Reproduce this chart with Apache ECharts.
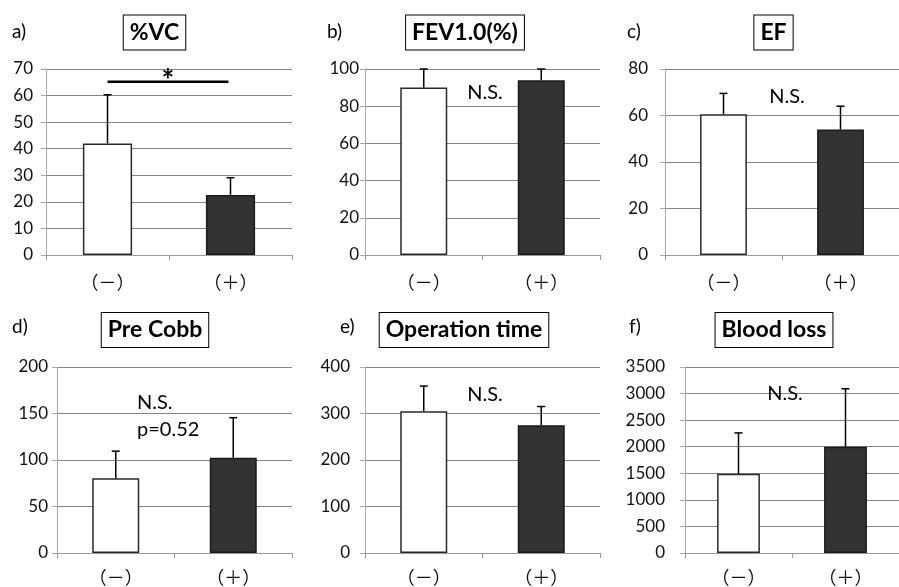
<!DOCTYPE html>
<html><head><meta charset="utf-8">
<script src="https://cdn.jsdelivr.net/npm/echarts@6/dist/echarts.min.js"></script>
<style>html,body{margin:0;padding:0;background:#fff}#c{width:899px;height:587px}</style>
</head><body><div id="c"></div>
<script>
var categories = ['（－）', '（＋）'];
var vcMean = [42, 22.6],      vcSD = [18.3, 6.5];
var fevMean = [90, 94],       fevSD = [10, 6];
var efMean = [60.5, 54],      efSD = [9, 10];
var cobbMean = [80.5, 102.5], cobbSD = [29, 43];
var opMean = [305, 275],      opSD = [54, 40];
var bloodMean = [1490, 2000], bloodSD = [770, 1090];
var titles = ['%VC', 'FEV1.0(%)', 'EF', 'Pre Cobb', 'Operation time', 'Blood loss'];
var panelLabels = ['a)', 'b)', 'c)', 'd)', 'e)', 'f)'];
var yMax = [70, 100, 80, 200, 400, 3500];
var yInterval = [10, 20, 20, 50, 100, 500];
var sigBar = 65.2;

var means = [vcMean, fevMean, efMean, cobbMean, opMean, bloodMean];
var sds = [vcSD, fevSD, efSD, cobbSD, opSD, bloodSD];

var FONT = 'Lato';
var grids = [
  {left: 46, right: 607, top: 69, bottom: 332},
  {left: 365, right: 299, top: 69, bottom: 332},
  {left: 665, right: -11, top: 69, bottom: 332},
  {left: 57, right: 607, top: 367, bottom: 34},
  {left: 365, right: 299, top: 367, bottom: 34},
  {left: 685, right: -11, top: 367, bottom: 34}
];
var labelMargins = [13, 6, 17, 9, 15, 20];
var catMargins = [18, 18, 18, 15, 15, 15];

var xAxes = [], yAxes = [], series = [];
grids.forEach(function (g, i) {
  xAxes.push({
    type: 'category', gridIndex: i, data: categories,
    axisLine: {lineStyle: {color: '#999', width: 1}},
    axisTick: {show: true, length: 5, lineStyle: {color: '#999'}},
    axisLabel: {color: '#111', fontSize: 18, fontFamily: 'Noto Sans CJK JP', margin: catMargins[i]}
  });
  yAxes.push({
    type: 'value', gridIndex: i, min: 0, max: yMax[i], interval: yInterval[i],
    axisLine: {show: true, lineStyle: {color: '#aaa', width: 1}},
    axisTick: {show: true, length: 5, lineStyle: {color: '#aaa'}},
    axisLabel: {color: '#111', fontSize: 17, fontFamily: FONT, margin: labelMargins[i],
      formatter: function (v) { return String(v); }},
    splitLine: {show: true, lineStyle: {color: '#858585', width: 1}}
  });
  series.push({
    type: 'bar', xAxisIndex: i, yAxisIndex: i, barWidth: '40%',
    data: means[i].map(function (v, k) {
      return {value: v, itemStyle: k === 0 ? {color: '#ffffff', borderColor: '#2a2a2a', borderWidth: 1.5}
                                           : {color: '#333333', borderColor: '#1a1a1a', borderWidth: 1.5}};
    }),
    z: 2
  });
  series.push({
    type: 'custom', xAxisIndex: i, yAxisIndex: i, z: 5,
    data: means[i].map(function (v, k) { return [k, v, v + sds[i][k]]; }),
    renderItem: function (params, api) {
      var p0 = api.coord([api.value(0), api.value(1)]);
      var p1 = api.coord([api.value(0), api.value(2)]);
      var st = {stroke: '#000', lineWidth: 1.5};
      return {type: 'group', children: [
        {type: 'line', shape: {x1: p0[0], y1: p0[1], x2: p1[0], y2: p1[1]}, style: st},
        {type: 'line', shape: {x1: p1[0] - 4, y1: p1[1], x2: p1[0] + 4, y2: p1[1]}, style: st}
      ]};
    }
  });
});
// significance bracket in panel a
series.push({
  type: 'custom', xAxisIndex: 0, yAxisIndex: 0, z: 6,
  data: [[0, 1, sigBar]],
  renderItem: function (params, api) {
    var a = api.coord([api.value(0), api.value(2)]);
    var b = api.coord([api.value(1), api.value(2)]);
    return {type: 'group', children: [
      {type: 'line', shape: {x1: a[0], y1: a[1], x2: b[0] - 2, y2: b[1]}, style: {stroke: '#000', lineWidth: 2.5}},
      {type: 'text', style: {text: '*', x: (a[0] + b[0]) / 2 - 1, y: a[1] + 15, align: 'center', verticalAlign: 'bottom',
        font: 'bold 30px ' + FONT, fill: '#000'}}
    ]};
  }
});

var titlePos = [[154.5, 32.5], [465, 32.5], [773.5, 32.5], [155, 330], [464, 330], [774, 330]];
var labelPos = [[12, 32], [327, 32], [627, 32], [12, 327], [340, 327], [629, 327]];
var graphics = [];
titles.forEach(function (t, i) {
  graphics.push({type: 'text', x: titlePos[i][0], y: titlePos[i][1], z: 10,
    style: {text: t, align: 'center', verticalAlign: 'middle', font: 'bold 23px ' + FONT, fill: '#000',
      borderColor: '#000', borderWidth: 1, padding: [6, 6, 5, 6], backgroundColor: '#fff'}});
  graphics.push({type: 'text', x: labelPos[i][0], y: labelPos[i][1], z: 10,
    style: {text: panelLabels[i], align: 'left', verticalAlign: 'middle', font: '19px ' + FONT, fill: '#000'}});
});
var nsPos = [[485, 93], [787, 97], [485, 395], [785, 394]];
nsPos.forEach(function (p) {
  graphics.push({type: 'text', x: p[0], y: p[1], z: 10,
    style: {text: 'N.S.', align: 'center', verticalAlign: 'middle', font: '20px ' + FONT, fill: '#000'}});
});
graphics.push({type: 'text', x: 137, y: 403, z: 10,
  style: {text: 'N.S.', align: 'left', verticalAlign: 'middle', font: '20px ' + FONT, fill: '#000'}});
graphics.push({type: 'text', x: 137, y: 430, z: 10,
  style: {text: 'p=0.52', align: 'left', verticalAlign: 'middle', font: '20px ' + FONT, fill: '#000'}});

var chart = echarts.init(document.getElementById('c'), null, {renderer: 'canvas'});
chart.setOption({
  animation: false,
  backgroundColor: '#fff',
  grid: grids,
  xAxis: xAxes,
  yAxis: yAxes,
  series: series,
  graphic: graphics
});
</script>
</body></html>
